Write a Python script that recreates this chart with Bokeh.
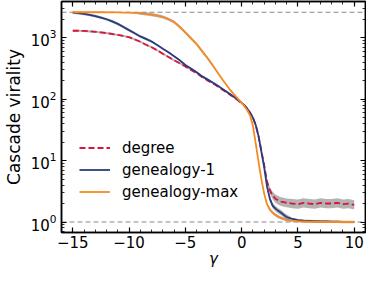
from bokeh.plotting import figure
from bokeh.models import (LinearAxis, LogAxis, Span, Legend, LegendItem,
                          FixedTicker, LogTicker, CustomJSTickFormatter, ColumnDataSource)
from bokeh.embed import file_html
from bokeh.resources import INLINE

# ---------------- data ----------------
gamma = [-15, -14.5, -14, -13.5, -13, -12.5, -12, -11.5, -11, -10.5, -10,
         -9.5, -9, -8.5, -8, -7.5, -7, -6.5, -6, -5.5, -5, -4.5, -4, -3.5,
         -3, -2.5, -2, -1.5, -1, -0.5, 0,
         0.25, 0.5, 0.75, 1.0, 1.25, 1.5, 1.75, 2.0, 2.25, 2.5, 2.75, 3.0,
         3.25, 3.5, 3.75, 4.0,
         4.5, 5, 5.5, 6, 6.5, 7, 7.5, 8, 8.5, 9, 9.5, 10]

degree = [1300, 1300, 1290, 1270, 1250, 1220, 1190, 1150, 1110, 1070, 1020,
          940, 860, 770, 700, 625, 550, 485, 430, 385, 340, 300, 265, 228,
          200, 178, 156, 135, 117, 101, 86,
          79, 70, 60, 50, 38, 25, 14.5, 8.5, 4.6, 3.3, 2.7, 2.4,
          2.25, 2.15, 2.1, 2.05,
          2.0, 1.95, 2.05, 2.0, 1.95, 2.05, 2.0, 2.0, 2.05, 1.95, 2.0, 1.9]

genealogy_1 = [2560, 2510, 2440, 2350, 2250, 2130, 2000, 1850, 1680, 1500, 1330,
               1180, 1050, 960, 870, 760, 660, 580, 500, 430, 360, 315, 275, 235,
               208, 183, 160, 138, 120, 103, 87,
               79, 70, 60, 50, 38, 25, 14, 7.8, 3.8, 2.4, 1.85, 1.65,
               1.52, 1.42, 1.3, 1.2,
               1.12, 1.07, 1.05, 1.04, 1.03, 1.02, 1.02, 1.01, 1.01, 1.0, 1.0, 1.0]

genealogy_max = [2600, 2600, 2600, 2600, 2600, 2600, 2590, 2590, 2580, 2570, 2560,
                 2540, 2500, 2450, 2380, 2290, 2180, 2000, 1800, 1500, 1220, 980, 790, 600,
                 460, 340, 250, 185, 140, 110, 87,
                 77, 66, 54, 37, 19, 9.5, 5.0, 2.9, 1.95, 1.6, 1.42, 1.3,
                 1.22, 1.16, 1.12, 1.08,
                 1.05, 1.03, 1.02, 1.01, 1.01, 1.0, 1.0, 1.0, 1.0, 1.0, 1.0, 1.0]

# relative spread of the grey bands
degree_err = [0.04] * 21 + [0.02] * 10 + \
             [0.02, 0.02, 0.02, 0.03, 0.03, 0.04, 0.06, 0.08, 0.11, 0.13, 0.15, 0.17,
              0.18, 0.18, 0.18, 0.18] + [0.19] * 12
genealogy_1_err = [0.05] * 15 + [0.03] * 16 + [0.03] * 8 + [0.1] * 8 + [0.05] * 12
genealogy_max_err = [0.02] * 12 + [0.06] * 14 + [0.03] * 5 + [0.03] * 8 + [0.06] * 8 + [0.03] * 12

ref_levels = [1, 2600]
x_major = [-15, -10, -5, 0, 5, 10]

series = [
    ("degree", degree, degree_err, "#dc143c", "6 3"),
    ("genealogy-1", genealogy_1, genealogy_1_err, "#2a3b7f", "solid"),
    ("genealogy-max", genealogy_max, genealogy_max_err, "#f78a1f", "solid"),
]

FONT = "DejaVu Sans"

p = figure(width=366, height=270, x_range=(-16, 11), y_range=(0.675, 3890),
           y_axis_type="log", output_backend="svg", toolbar_location=None,
           min_border_left=51, min_border_right=1, min_border_top=1,
           min_border_bottom=38)
p.grid.visible = False
p.outline_line_color = "black"
p.outline_line_width = 1.5
p.background_fill_color = "white"

for s in ref_levels:
    p.add_layout(Span(location=s, dimension="width", line_color="#888888",
                      line_width=1, line_dash="5 3", level="underlay"))

items = []
for name, vals, err, color, dash in series:
    lo = [v / (1 + e) for v, e in zip(vals, err)]
    hi = [v * (1 + e) for v, e in zip(vals, err)]
    src = ColumnDataSource(dict(x=gamma, y=vals, lo=lo, hi=hi))
    p.varea(x="x", y1="lo", y2="hi", source=src, fill_color="#9a9a9a", fill_alpha=0.75)
for name, vals, err, color, dash in series:
    src = ColumnDataSource(dict(x=gamma, y=vals))
    r = p.line(x="x", y="y", source=src, line_color=color, line_width=1.8,
               line_dash=dash)
    items.append(LegendItem(label=name, renderers=[r]))

legend = Legend(items=items, location=(18, 30), background_fill_alpha=0,
                border_line_alpha=0, padding=0, margin=0, spacing=1,
                glyph_width=31, glyph_height=21, label_height=21,
                label_standoff=12, label_text_font=FONT,
                label_text_font_size="15px", label_text_color="black")
p.add_layout(legend, "center")

# bottom axis
xa = p.xaxis[0]
xa.ticker = FixedTicker(ticks=x_major, minor_ticks=list(range(-16, 12)))
xa.formatter = CustomJSTickFormatter(
    code="return tick < 0 ? '\u2212' + Math.abs(tick) : tick.toString();")
xa.axis_label = "\u03b3"
xa.axis_label_text_font = FONT
xa.axis_label_text_font_style = "italic"
xa.axis_label_text_font_size = "15px"
xa.axis_label_standoff = -1

ya = p.yaxis[0]
ya.ticker = LogTicker(num_minor_ticks=10)
ya.axis_label = "Cascade virality"
ya.axis_label_text_font = FONT
ya.axis_label_text_font_style = "normal"
ya.axis_label_text_font_size = "17px"
ya.axis_label_standoff = 4

for ax in (xa, ya):
    ax.major_label_text_font = FONT
    ax.major_label_text_font_size = "15px"
    ax.major_label_text_color = "black"
    ax.axis_label_text_color = "black"
xa.major_label_standoff = 3
ya.major_label_standoff = 5

# mirrored top / right axes (ticks only)
top = LinearAxis(ticker=FixedTicker(ticks=x_major, minor_ticks=list(range(-16, 12))),
                 formatter=CustomJSTickFormatter(code="return '';"),
                 major_label_standoff=0, major_label_text_font_size="1px")
right = LogAxis(ticker=LogTicker(num_minor_ticks=10),
                formatter=CustomJSTickFormatter(code="return '';"),
                major_label_standoff=0, major_label_text_font_size="1px")
p.add_layout(top, "above")
p.add_layout(right, "right")

for ax in (xa, ya, top, right):
    ax.axis_line_color = "black"
    ax.axis_line_width = 1.5
    ax.major_tick_in = 5
    ax.major_tick_out = 0
    ax.minor_tick_in = 3
    ax.minor_tick_out = 0
    ax.major_tick_line_color = "black"
    ax.minor_tick_line_color = "black"
    ax.major_tick_line_width = 1.2
    ax.minor_tick_line_width = 0.8

open("out.html", "w").write(file_html(p, INLINE))
